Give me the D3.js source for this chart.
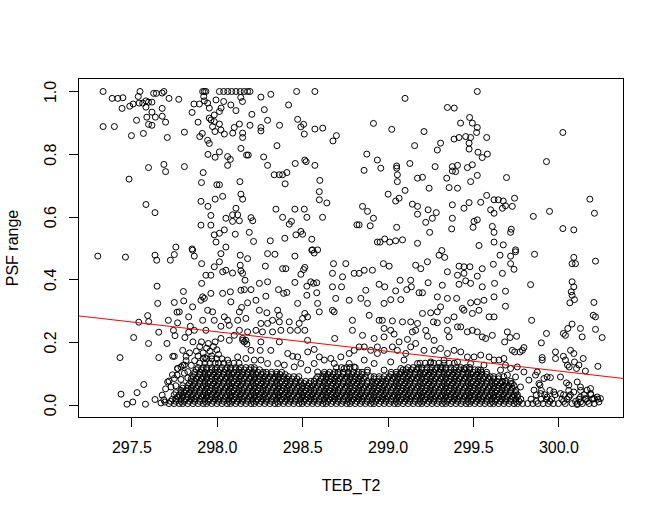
<!DOCTYPE html>
<html>
<head>
<meta charset="utf-8">
<script src="https://cdn.jsdelivr.net/npm/d3@7"></script>
<style>
  body { margin: 0; background: #fff; }
  svg { display: block; }
</style>
</head>
<body>
<script>
const width = 664;
const height = 515;

const tebTicks = [297.5, 298.0, 298.5, 299.0, 299.5, 300.0];
const psfTicks = [0.0, 0.2, 0.4, 0.6, 0.8, 1.0];

// lm fit drawn with abline
const fitIntercept = 18.917;
const fitSlope = -0.0627;

// [TEB_T2, PSF range], sparse points above ~0.5
const upper = [
[297.334,1],[297.387,0.978],[297.42,0.978],[297.45,0.98],[297.55,1],[297.445,0.946],[297.49,0.953],[297.51,0.96],[297.54,0.984],[297.545,0.963],[297.566,0.963],[297.585,0.97],[297.6,0.966],[297.62,0.966],[297.63,0.994],[297.646,0.994],[297.68,0.995],[297.69,1],[297.72,0.978],[297.777,0.975],[297.585,0.95],[297.68,0.946],[297.62,0.934],[297.59,0.918],[297.64,0.918],[297.68,0.921],[297.53,0.908],[297.7,0.902],[297.6,0.895],[297.62,0.892],[297.334,0.888],[297.4,0.888],[297.5,0.859],[297.57,0.866],[297.71,0.853],[297.81,0.87],[297.855,0.933],[297.866,0.96],[297.89,0.902],[297.9,0.856],[297.915,0.866],[297.946,0.844],[297.956,0.834],[297.948,0.799],[297.99,0.79],[297.6,0.757],[297.69,0.767],[297.7,0.744],[297.81,0.76],[297.486,0.72],[297.92,0.741],[297.91,0.709],[298,0.702],[297.585,0.639],[297.638,0.613],[297.907,0.649],[297.948,0.633],[297.99,0.656],[297.965,0.604],[297.907,0.573],[297.965,0.573],[297.985,0.542],[297.995,0.519],[297.76,0.503],[297.855,0.497],
[297.917,1],[297.927,1],[297.936,1],[297.923,0.984],[297.927,0.97],[297.898,0.96],[297.946,0.963],[297.956,0.947],[297.966,0.909],[297.985,0.904],[297.975,0.888],[297.989,0.872],[297.956,0.915],[297.985,0.925],[297.995,0.973],
[298.015,1],[298.04,1],[298.064,1],[298.087,1],[298.112,1],[298.137,1],[298.16,1],[298.18,1],[298.194,1],[298.258,0.982],[298.316,0.991],[298.467,1],[298.574,1],[298.04,0.968],[298.15,0.968],[298.14,0.981],[298.082,0.957],[298.112,0.939],[298.015,0.936],[298.025,0.947],[298.42,0.957],[298.278,0.942],[298.205,0.927],
[298.297,0.908],[298.258,0.885],[298.258,0.874],[298.194,0.892],[298.132,0.896],[298.102,0.885],[298.151,0.867],[298.151,0.853],[298.093,0.867],[298.044,0.864],[298.024,0.877],[298.015,0.896],
[298.367,0.892],[298.473,0.911],[298.508,0.895],[298.492,0.887],[298.512,0.864],[298.574,0.88],[298.62,0.883],[298.7,0.859],[298.68,0.842],
[298.352,0.827],[298.141,0.818],[298.174,0.797],[298.184,0.797],[298.274,0.791],[298.297,0.764],[298.336,0.734],[298.366,0.734],[298.385,0.734],[298.41,0.741],[298.459,0.77],[298.515,0.781],[298.523,0.776],[298.574,0.764],[298.603,0.716],[298.4,0.705],[298.135,0.712],[298.141,0.672],[298.151,0.656],[298.063,0.792],[298.079,0.783],[298.063,0.764],[298.015,0.807],[298.015,0.702],[298.034,0.665],
[298.6,0.68],[298.6,0.654],[298.644,0.644],[298.346,0.624],[298.457,0.624],[298.512,0.624],[298.385,0.598],[298.527,0.598],[298.619,0.598],
[298.112,0.627],[298.092,0.606],[298.122,0.606],[298.053,0.595],[298.092,0.585],[298.132,0.587],[298.2,0.597],[298.21,0.587],
[298.424,0.576],[298.437,0.585],[298.492,0.553],[298.502,0.544],[298.556,0.528],[298.463,0.542],[298.398,0.531],[298.313,0.523],[298.19,0.55],[298.215,0.521],[298.108,0.544],[298.044,0.558],[298.015,0.547],[298.053,0.503],[298.82,0.574],[298.56,0.494],[298.59,0.494],
[299.525,1],[299.102,0.978],[299.35,0.949],[299.39,0.947],[298.917,0.898],[299.024,0.879],[299.213,0.872],[299.427,0.899],[299.48,0.917],[299.496,0.899],[299.525,0.885],[299.521,0.869],[299.58,0.853],[299.389,0.848],[299.418,0.853],[299.457,0.856],[299.486,0.853],[299.477,0.835],[299.477,0.816],[299.31,0.835],[299.291,0.813],[299.158,0.827],[298.878,0.8],[298.94,0.781],[298.96,0.755],[298.862,0.748],[299.053,0.762],[299.053,0.755],[299.057,0.734],[299.057,0.712],[299.13,0.77],[299.278,0.76],
[299.175,0.723],[299.204,0.726],[299.346,0.723],[299.379,0.76],[299.409,0.764],[299.379,0.746],[299.398,0.744],[299.467,0.757],[299.496,0.766],[299.529,0.806],[299.554,0.789],[299.584,0.8],[299.525,0.732],[299.486,0.712],[299.36,0.693],[299.409,0.691],[299.243,0.691],[299.102,0.684],
[299.58,0.668],[299.623,0.654],[299.545,0.646],[299.477,0.645],[299.447,0.627],[299.379,0.638],
[299.003,0.672],[299.047,0.65],[299.067,0.659],[299.145,0.64],[299.175,0.633],[299.237,0.622],[299.285,0.613],[299.175,0.608],[299.223,0.582],[299.262,0.595],[299.246,0.55],[299.379,0.595],[299.375,0.561],[299.506,0.585],[299.525,0.59],[299.5,0.566],[299.603,0.622],[299.623,0.611],[299.613,0.569],[299.623,0.55],[299.623,0.519],
[298.853,0.633],[298.882,0.617],[298.917,0.595],[298.833,0.574],[298.898,0.571],[299.053,0.566],
[298.94,0.519],[298.956,0.519],[298.983,0.529],[299.012,0.519],[299.047,0.523],[299.087,0.526],[299.175,0.515],[299.317,0.492],[299.535,0.508],
[300.026,0.869],[299.93,0.776],[299.696,0.725],[299.648,0.654],[299.677,0.65],[299.743,0.659],[299.672,0.627],[299.69,0.635],[299.73,0.633],[299.853,0.601],[299.948,0.617],[300.184,0.656],[300.211,0.611],[299.724,0.56],[299.72,0.55],[300.026,0.562],[300.09,0.558],[299.677,0.51],[299.749,0.494]
];

// sparse points between ~0.2 and 0.5
const middle = [
[297.303,0.474],[297.465,0.471],[297.638,0.477],[297.648,0.461],[297.728,0.461],[297.751,0.479],
[297.65,0.378],[297.654,0.323],[297.804,0.361],[297.806,0.331],[297.751,0.326],[297.858,0.312],[297.767,0.295],[297.78,0.296],[297.595,0.284],[297.601,0.265],[297.543,0.263],[297.716,0.269],[297.77,0.261],[297.835,0.28],[297.845,0.25],[297.513,0.214],[297.6,0.195],[297.66,0.231],[297.746,0.237],[297.755,0.22],[297.708,0.195],[297.813,0.214],[297.835,0.231],[297.868,0.237],[297.433,0.15],[297.66,0.15],[297.742,0.154],[297.751,0.154],
[297.8,0.173],[297.907,0.333],[297.917,0.344],[297.927,0.339],[297.911,0.45],[297.936,0.413],[297.965,0.413],[297.985,0.44],[297.911,0.387],[297.965,0.355],[297.946,0.301],[297.975,0.296],[297.917,0.269],[297.985,0.269],[297.936,0.237],[297.858,0.493],[297.868,0.474],
[298.024,0.482],[298.137,0.477],[298.18,0.466],[298.297,0.482],[298.34,0.48],[298.457,0.474],[298.57,0.484],[298.556,0.493],
[298.015,0.456],[298.034,0.424],[298.053,0.429],[298.092,0.42],[298.137,0.445],[298.141,0.427],[298.151,0.419],[298.165,0.397],[298.284,0.442],[298.385,0.434],[298.404,0.434],[298.508,0.431],[298.492,0.416],[298.515,0.438],[298.683,0.45],[298.755,0.45],[298.677,0.419],[298.736,0.408],
[298.249,0.387],[298.297,0.392],[298.457,0.39],[298.55,0.392],[298.585,0.389],[298.677,0.376],[298.73,0.376],[298.804,0.419],[298.775,0.333],[298.696,0.339],[298.687,0.296],[298.677,0.301],[298.794,0.269],[298.794,0.237],[298.69,0.211],
[298.034,0.355],[298.079,0.36],[298.141,0.365],[298.161,0.367],[298.2,0.367],[298.229,0.333],[298.287,0.346],[298.361,0.367],[298.391,0.355],[298.41,0.358],[298.473,0.323],[298.527,0.378],[298.527,0.349],[298.566,0.387],[298.585,0.357],[298.59,0.323],[298.6,0.296],[298.515,0.291],[298.502,0.275],[298.482,0.259],[298.531,0.28],
[298.082,0.328],[298.145,0.31],[298.132,0.296],[298.18,0.325],[298.249,0.301],[298.293,0.293],[298.356,0.301],[298.366,0.285],[298.326,0.269],[298.366,0.264],[298.424,0.264],[298.43,0.237],[298.473,0.237],[298.515,0.237],[298.531,0.205],
[298.044,0.28],[298.063,0.269],[298.073,0.253],[298.122,0.269],[298.17,0.275],[298.024,0.25],[298.132,0.237],[298.18,0.232],[298.229,0.237],[298.258,0.259],[298.267,0.232],[298.297,0.259],[298.326,0.232],[298.375,0.237],[298.17,0.205],[298.151,0.205],
[299.301,0.477],[299.334,0.47],[298.975,0.45],[299.009,0.442],[299.164,0.445],[299.194,0.434],[299.233,0.456],[299.418,0.442],[299.447,0.44],[299.482,0.44],[299.554,0.434],[299.619,0.448],[298.863,0.429],[298.911,0.429],[298.833,0.419],[299.35,0.424],[299.409,0.413],[299.447,0.419],[299.525,0.41],
[298.95,0.384],[298.983,0.376],[299.073,0.397],[299.135,0.397],[299.112,0.367],[299.139,0.376],[299.237,0.389],[299.32,0.381],[299.418,0.384],[299.457,0.395],[299.486,0.387],[299.554,0.376],[299.626,0.387],[298.872,0.365],[299.047,0.363],
[298.843,0.339],[298.882,0.323],[298.979,0.323],[299.018,0.335],[299.077,0.335],[299.184,0.357],[299.204,0.357],[299.291,0.344],[299.35,0.339],[299.404,0.339],[299.486,0.325],[299.525,0.328],[299.564,0.333],[299.623,0.344],
[298.892,0.285],[298.95,0.269],[298.969,0.269],[299.028,0.267],[299.087,0.264],[299.135,0.264],[299.175,0.259],[299.204,0.291],[299.252,0.293],[299.268,0.264],[299.291,0.261],[299.31,0.312],[299.291,0.296],[299.35,0.269],[299.389,0.28],[299.438,0.307],[299.447,0.301],[299.496,0.291],[299.535,0.301],[299.594,0.28],[299.623,0.28],
[298.979,0.243],[299.018,0.237],[299.038,0.225],[298.979,0.216],[298.921,0.211],[298.853,0.221],[299.067,0.2],[299.116,0.208],[299.145,0.232],[299.164,0.237],[299.223,0.237],[299.233,0.218],[299.272,0.205],[299.35,0.237],[299.36,0.216],[299.409,0.248],[299.428,0.248],[299.467,0.232],[299.496,0.237],[299.525,0.232],[299.554,0.216],[299.574,0.211],[299.613,0.221],[298.863,0.184],[298.94,0.184],
[299.658,0.477],[299.72,0.474],[299.749,0.488],[299.86,0.48],[300.09,0.47],[300.08,0.45],[300.1,0.45],[300.217,0.458],[299.72,0.45],[299.74,0.432],[299.672,0.419],
[299.837,0.383],[300.08,0.392],[300.09,0.376],[300.075,0.36],[300.08,0.349],[300.094,0.335],[300.067,0.325],[300.208,0.326],[300.204,0.285],[300.217,0.28],[299.69,0.362],[299.69,0.314],[299.843,0.269],
[300.08,0.257],[300.055,0.243],[300.041,0.221],[300.129,0.243],[300.139,0.216],[300.217,0.24],[300.256,0.214],[299.93,0.227],[299.9,0.197],[300.029,0.227],
[299.701,0.232],[299.717,0.214],[299.755,0.218],[299.685,0.2],[299.73,0.173],[299.744,0.168],[299.775,0.168],[299.789,0.173],[299.798,0.182]
];

// points around the edge of the dense band, below ~0.2
const lower = [
[297.439,0.033],[297.474,0.001],[297.508,0.008],[297.533,0.038],[297.572,0.064],[297.582,0.001],[297.638,0.016],[297.673,0.005],[297.696,0.008],
[297.82,0.154],[297.771,0.115],[297.79,0.12],[297.81,0.126],[297.767,0.094],[297.751,0.083],[297.712,0.072],[297.732,0.056],
[297.88,0.17],[297.9,0.185],[297.92,0.165],[297.94,0.18],[297.96,0.17],[297.98,0.185],[298,0.175],[297.89,0.155],[297.93,0.15],[297.97,0.155],[298.01,0.16],[297.91,0.2],[297.95,0.195],[297.99,0.2],[297.87,0.14],[297.85,0.125],[297.83,0.105],[297.86,0.2],[297.84,0.165],[297.82,0.14],
[297.7,0.05],[297.72,0.075],[297.74,0.095],[297.76,0.06],[297.77,0.115],[297.79,0.08],[297.8,0.125],[297.81,0.1],[297.83,0.085],[297.68,0.03],[297.69,0.015],
[298.024,0.211],[298.073,0.205],[298.102,0.221],[298.151,0.211],[298.161,0.2],[298.176,0.193],[298.2,0.173],[298.254,0.173],[298.258,0.2],[298.316,0.173],[298.366,0.2],[298.415,0.163],[298.444,0.154],[298.473,0.152],[298.532,0.168],[298.57,0.176],[298.6,0.152],[298.629,0.142],[298.667,0.147],[298.687,0.131],[298.726,0.152],[298.775,0.163],[298.804,0.173],[298.122,0.152],[298.063,0.142],[298.258,0.142],[298.356,0.131],[298.492,0.131],[298.57,0.131],[298.532,0.11],[298.59,0.104],[298.453,0.12],[298.395,0.126],[298.297,0.131],[298.219,0.142],[298.17,0.147],[298.775,0.131],[298.745,0.115],[298.804,0.12],
[298.833,0.184],[298.901,0.173],[298.94,0.163],[298.979,0.173],[299.028,0.184],[299.057,0.173],[299.106,0.163],[299.135,0.184],[299.164,0.195],[299.213,0.173],[299.272,0.173],[299.31,0.179],[299.35,0.163],[299.389,0.173],[299.428,0.168],[299.467,0.152],[299.506,0.152],[299.545,0.158],[299.594,0.152],[299.623,0.142],[298.863,0.142],[298.921,0.131],[299.018,0.136],[299.096,0.142],[299.175,0.131],[299.252,0.136],[299.33,0.142],[299.409,0.136],[299.486,0.131],[299.564,0.126],[298.882,0.11],[298.979,0.11],[299.077,0.115],[299.31,0.12],[299.447,0.115],[299.545,0.11],
[299.652,0.142],[299.681,0.147],[299.69,0.126],[299.661,0.11],[299.72,0.115],[299.759,0.12],[299.701,0.094],[299.749,0.088],[299.798,0.104],[299.827,0.078],[299.672,0.072],[299.73,0.067],[299.778,0.056],[299.857,0.046],[299.896,0.035],[299.934,0.024],[299.973,0.04],[300.012,0.035],[300.061,0.024],[300.09,0.04],[300.129,0.024],[300.168,0.046],[300.208,0.019],[300.246,0.019],
[299.983,0.168],[299.983,0.147],[300.029,0.154],[300.041,0.142],[300.071,0.173],[300.09,0.163],[300.053,0.126],[300.063,0.12],[300.094,0.136],[300.106,0.115],[300.12,0.126],[300.145,0.147],[300.231,0.122],[300.158,0.107],[299.905,0.15],[299.905,0.142],[299.876,0.104],[299.866,0.094],[299.886,0.067],[299.892,0.062],[299.915,0.083],[299.934,0.088],[299.953,0.086],[300.012,0.088],[300.047,0.069],[300.061,0.062],[300.11,0.072],[300.129,0.056],[300.188,0.051],[300.227,0.024],[300.237,0.008],[300.188,0.035],[300.158,0.019],[300.129,0.008],[300.11,0]
];

// the solid black band near zero: [PSF range, TEB_T2 values at that level]
const coreRows = [
[0.003, [297.72,297.75,297.78,297.8,297.83,297.86,297.89,297.92,297.94,297.97,298,298.03,298.06,298.08,298.11,298.14,298.17,298.2,298.22,298.25,298.28,298.31,298.34,298.36,298.39,298.42,298.45,298.48,298.5,298.53,298.56,298.59,298.62,298.64,298.67,298.7,298.73,298.76,298.78,298.81,298.84,298.87,298.9,298.92,298.95,298.98,299.01,299.04,299.06,299.09,299.12,299.15,299.18,299.2,299.23,299.26,299.29,299.32,299.34,299.37,299.4,299.43,299.46,299.48,299.51,299.54,299.57,299.6,299.62,299.65,299.68,299.71,299.74,299.76,299.79,299.82,299.85,299.88,299.91,299.94,299.97,300,300.04,300.08,300.11,300.14,300.18,300.21]],
[0.01, [297.73,297.76,297.79,297.81,297.84,297.87,297.9,297.93,297.95,297.98,298.01,298.04,298.07,298.09,298.12,298.15,298.18,298.21,298.23,298.26,298.29,298.32,298.35,298.37,298.4,298.43,298.46,298.49,298.51,298.54,298.57,298.6,298.63,298.65,298.68,298.71,298.74,298.77,298.79,298.82,298.85,298.88,298.91,298.93,298.96,298.99,299.02,299.05,299.07,299.1,299.13,299.16,299.19,299.21,299.24,299.27,299.3,299.33,299.35,299.38,299.41,299.44,299.47,299.49,299.52,299.55,299.58,299.61,299.63,299.66,299.69,299.72,299.75,299.77,299.87,299.95,300.03,300.1,300.17]],
[0.017, [297.74,297.76,297.79,297.82,297.85,297.87,297.9,297.93,297.96,297.99,298.01,298.04,298.07,298.1,298.13,298.15,298.18,298.21,298.24,298.27,298.29,298.32,298.35,298.38,298.41,298.43,298.46,298.49,298.52,298.55,298.57,298.6,298.63,298.66,298.69,298.71,298.74,298.77,298.8,298.83,298.85,298.88,298.91,298.94,298.97,298.99,299.02,299.05,299.08,299.11,299.13,299.16,299.19,299.22,299.25,299.27,299.3,299.33,299.36,299.39,299.41,299.44,299.47,299.5,299.53,299.55,299.58,299.61,299.64,299.67,299.69,299.72,299.75,299.78,299.84,299.9,299.93,299.96,300.02,300.05,300.12,300.16,300.2,300.23]],
[0.024, [297.77,297.8,297.83,297.85,297.88,297.91,297.94,297.97,297.99,298.02,298.05,298.08,298.11,298.13,298.16,298.19,298.22,298.25,298.27,298.3,298.33,298.36,298.39,298.41,298.44,298.47,298.5,298.53,298.55,298.58,298.61,298.64,298.67,298.69,298.72,298.75,298.78,298.81,298.83,298.86,298.89,298.92,298.95,298.97,299,299.03,299.06,299.09,299.11,299.14,299.17,299.2,299.23,299.25,299.28,299.31,299.34,299.37,299.39,299.42,299.45,299.48,299.51,299.53,299.56,299.59,299.62,299.65,299.67,299.7,299.73,299.76]],
[0.031, [297.75,297.78,297.8,297.83,297.86,297.89,297.92,297.94,297.97,298,298.03,298.06,298.08,298.11,298.14,298.17,298.2,298.22,298.25,298.28,298.31,298.34,298.36,298.39,298.42,298.45,298.48,298.5,298.53,298.56,298.59,298.62,298.64,298.67,298.7,298.73,298.76,298.78,298.81,298.84,298.87,298.9,298.92,298.95,298.98,299.01,299.04,299.06,299.09,299.12,299.15,299.18,299.2,299.23,299.26,299.29,299.32,299.34,299.37,299.4,299.43,299.46,299.48,299.51,299.54,299.57,299.6,299.62,299.65,299.68,299.71,299.74,299.76,299.87,299.92,299.98,300.03,300.07,300.15,300.19]],
[0.038, [297.76,297.79,297.81,297.84,297.87,297.9,297.93,297.95,297.98,298.01,298.04,298.07,298.09,298.12,298.15,298.18,298.21,298.23,298.26,298.29,298.32,298.35,298.37,298.4,298.43,298.46,298.49,298.51,298.54,298.57,298.6,298.63,298.65,298.68,298.71,298.74,298.77,298.79,298.82,298.85,298.88,298.91,298.93,298.96,298.99,299.02,299.05,299.07,299.1,299.13,299.16,299.19,299.21,299.24,299.27,299.3,299.33,299.35,299.38,299.41,299.44,299.47,299.49,299.52,299.55,299.58,299.61,299.63,299.66,299.69,299.72,299.75]],
[0.045, [297.79,297.82,297.85,297.87,297.9,297.93,297.96,297.99,298.01,298.04,298.07,298.1,298.13,298.15,298.18,298.21,298.24,298.27,298.29,298.32,298.35,298.38,298.41,298.43,298.46,298.49,298.52,298.55,298.57,298.6,298.63,298.66,298.69,298.71,298.74,298.77,298.8,298.83,298.85,298.88,298.91,298.94,298.97,298.99,299.02,299.05,299.08,299.11,299.13,299.16,299.19,299.22,299.25,299.27,299.3,299.33,299.36,299.39,299.41,299.44,299.47,299.5,299.53,299.55,299.58,299.61,299.64,299.67,299.69,299.72,299.75,299.9,299.95,300.06,300.13]],
[0.052, [297.8,297.83,297.85,297.88,297.91,297.94,297.97,297.99,298.02,298.05,298.08,298.11,298.13,298.16,298.19,298.22,298.25,298.27,298.3,298.33,298.36,298.39,298.41,298.44,298.47,298.5,298.53,298.55,298.58,298.61,298.64,298.67,298.69,298.72,298.75,298.78,298.81,298.83,298.86,298.89,298.92,298.95,298.97,299,299.03,299.06,299.09,299.11,299.14,299.17,299.2,299.23,299.25,299.28,299.31,299.34,299.37,299.39,299.42,299.45,299.48,299.51,299.53,299.56,299.59,299.62,299.65,299.67,299.7,299.73]],
[0.06, [297.8,297.83,297.86,297.89,297.92,297.94,297.97,298,298.03,298.06,298.08,298.11,298.14,298.17,298.2,298.22,298.25,298.28,298.31,298.34,298.36,298.39,298.42,298.45,298.48,298.5,298.53,298.56,298.59,298.62,298.64,298.67,298.7,298.73,298.76,298.78,298.81,298.84,298.87,298.9,298.92,298.95,298.98,299.01,299.04,299.06,299.09,299.12,299.15,299.18,299.2,299.23,299.26,299.29,299.32,299.34,299.37,299.4,299.43,299.46,299.48,299.51,299.54,299.57,299.6,299.62,299.65,299.68,299.71,299.74]],
[0.067, [297.84,297.87,297.9,297.93,297.95,297.98,298.01,298.04,298.07,298.09,298.12,298.15,298.18,298.21,298.23,298.26,298.29,298.32,298.35,298.37,298.4,298.43,298.46,298.49,298.51,298.54,298.57,298.6,298.63,298.65,298.68,298.71,298.74,298.77,298.79,298.82,298.85,298.88,298.91,298.93,298.96,298.99,299.02,299.05,299.07,299.1,299.13,299.16,299.19,299.21,299.24,299.27,299.3,299.33,299.35,299.38,299.41,299.44,299.47,299.49,299.52,299.55,299.58,299.61,299.63,299.66,299.69,299.72]],
[0.074, [297.85,297.87,297.9,297.93,297.96,297.99,298.01,298.04,298.07,298.1,298.13,298.15,298.18,298.21,298.24,298.27,298.29,298.32,298.35,298.38,298.41,298.43,298.46,298.49,298.52,298.55,298.57,298.6,298.63,298.66,298.69,298.71,298.74,298.77,298.8,298.83,298.85,298.88,298.91,298.94,298.97,298.99,299.02,299.05,299.08,299.11,299.13,299.16,299.19,299.22,299.25,299.27,299.3,299.33,299.36,299.39,299.41,299.44,299.47,299.5,299.53,299.55,299.58,299.61,299.64,299.67,299.69,299.72]],
[0.082, [297.85,297.88,297.91,297.94,297.97,297.99,298.02,298.05,298.08,298.11,298.13,298.16,298.19,298.22,298.25,298.27,298.3,298.33,298.36,298.39,298.41,298.44,298.47,298.58,298.61,298.64,298.67,298.69,298.72,298.75,298.78,298.81,298.83,298.86,298.92,298.95,298.97,299,299.03,299.06,299.09,299.11,299.14,299.17,299.2,299.23,299.25,299.28,299.31,299.34,299.37,299.39,299.42,299.45,299.48,299.51,299.53,299.56,299.59,299.62,299.65]],
[0.089, [297.86,297.89,297.92,297.94,297.97,298,298.03,298.06,298.08,298.11,298.14,298.17,298.2,298.22,298.25,298.28,298.31,298.34,298.36,298.39,298.42,298.45,298.48,298.59,298.62,298.64,298.67,298.7,298.73,298.76,298.78,298.81,298.84,298.87,298.9,298.92,298.95,298.98,299.01,299.04,299.06,299.09,299.12,299.15,299.18,299.2,299.23,299.26,299.29,299.32,299.34,299.37,299.4,299.43,299.46,299.48,299.51,299.54,299.57,299.6,299.62,299.65,299.68]],
[0.096, [297.87,297.9,297.93,297.95,297.98,298.01,298.04,298.07,298.09,298.12,298.15,298.18,298.21,298.23,298.26,298.29,298.32,298.35,298.37,298.4,298.63,298.65,298.68,298.71,298.74,298.77,298.79,298.82,298.85,299.02,299.05,299.07,299.1,299.13,299.16,299.19,299.21,299.24,299.27,299.3,299.33,299.35,299.38,299.41,299.44,299.47,299.49,299.52,299.55,299.58]],
[0.103, [297.87,297.9,297.93,297.96,297.99,298.01,298.04,298.07,298.1,298.13,298.15,298.18,298.21,298.24,298.27,298.29,298.32,298.35,298.38,298.63,298.66,298.69,298.71,298.74,298.77,298.8,298.83,298.85,298.88,299.02,299.05,299.08,299.11,299.13,299.16,299.19,299.22,299.25,299.27,299.3,299.33,299.36,299.39,299.41,299.44,299.47,299.5,299.53,299.55,299.58]],
[0.111, [297.88,297.91,297.94,297.97,297.99,298.02,298.05,298.08,298.11,298.13,298.16,298.19,298.22,298.25,299.09,299.11,299.14,299.17,299.2,299.23,299.25,299.28,299.31,299.34,299.37,299.39,299.42,299.45,299.48,299.51,299.53]],
[0.118, [297.89,297.92,297.94,297.97,298,298.03,298.06,298.08,298.11,298.14,298.17,298.2,298.22,298.7,298.73,298.76,298.78,298.81,299.12,299.15,299.18,299.2,299.23,299.26,299.29,299.32,299.34,299.37,299.4,299.43,299.46,299.48]],
[0.132, [297.9,297.93,297.96,297.99,298.01,298.04,298.07,298.1,298.13,299.19,299.22,299.25,299.27,299.3,299.33,299.36,299.39]],
[0.146, [297.92,297.94,297.97,298,298.03]]
];

const points = [...upper, ...middle, ...lower]
  .map(([teb, psf]) => ({teb, psf}))
  .concat(coreRows.flatMap(([psf, tebs]) => tebs.map(teb => ({teb, psf}))));

const plot = {left: 78.5, right: 623.5, top: 78.5, bottom: 417.5};
const font = "'Liberation Sans', Arial, sans-serif";

const x = d3.scaleLinear().domain([297.19, 300.381]).range([plot.left, plot.right]);
const y = d3.scaleLinear().domain([-0.0415, 1.0415]).range([plot.bottom, plot.top]);

const svg = d3.select("body").append("svg")
  .attr("width", width)
  .attr("height", height)
  .attr("font-family", font)
  .attr("font-size", 16);

svg.append("rect")
  .attr("width", width)
  .attr("height", height)
  .attr("fill", "#fff");

// points, open circles like pch = 1
svg.append("g")
  .attr("fill", "none")
  .attr("stroke", "#000")
  .attr("stroke-width", 1)
  .selectAll("circle")
  .data(points)
  .join("circle")
  .attr("cx", d => x(d.teb))
  .attr("cy", d => y(d.psf))
  .attr("r", 3);

// regression line, clipped to the plot region
svg.append("clipPath")
  .attr("id", "plot-clip")
  .append("rect")
  .attr("x", plot.left)
  .attr("y", plot.top)
  .attr("width", plot.right - plot.left)
  .attr("height", plot.bottom - plot.top);

const [x0, x1] = x.domain();
svg.append("line")
  .attr("clip-path", "url(#plot-clip)")
  .attr("x1", x(x0))
  .attr("y1", y(fitIntercept + fitSlope * x0))
  .attr("x2", x(x1))
  .attr("y2", y(fitIntercept + fitSlope * x1))
  .attr("stroke", "red")
  .attr("stroke-width", 1);

// box
svg.append("rect")
  .attr("x", plot.left)
  .attr("y", plot.top)
  .attr("width", plot.right - plot.left)
  .attr("height", plot.bottom - plot.top)
  .attr("fill", "none")
  .attr("stroke", "#000")
  .attr("shape-rendering", "crispEdges");

const xAxis = svg.append("g")
  .attr("transform", `translate(0,${plot.bottom})`)
  .call(d3.axisBottom(x).tickValues(tebTicks).tickFormat(d3.format(".1f")).tickSize(9.6));
xAxis.select(".domain").remove();
xAxis.selectAll("line").attr("shape-rendering", "crispEdges");
xAxis.selectAll("text")
  .attr("y", 35.2)
  .attr("dy", 0)
  .attr("fill", "#000")
  .attr("font-family", font)
  .attr("font-size", 16);

const yAxis = svg.append("g")
  .attr("transform", `translate(${plot.left},0)`)
  .call(d3.axisLeft(y).tickValues(psfTicks).tickFormat(d3.format(".1f")).tickSize(9.6));
yAxis.select(".domain").remove();
yAxis.selectAll("line").attr("shape-rendering", "crispEdges");
yAxis.selectAll("text")
  .attr("x", 0)
  .attr("dy", 0)
  .attr("transform", "translate(-22.2,0) rotate(-90)")
  .attr("text-anchor", "middle")
  .attr("fill", "#000")
  .attr("font-family", font)
  .attr("font-size", 16);

svg.append("text")
  .attr("x", (plot.left + plot.right) / 2)
  .attr("y", 491)
  .attr("text-anchor", "middle")
  .text("TEB_T2");

svg.append("text")
  .attr("transform", `translate(17.5,${(plot.top + plot.bottom) / 2}) rotate(-90)`)
  .attr("text-anchor", "middle")
  .text("PSF range");
</script>
</body>
</html>
